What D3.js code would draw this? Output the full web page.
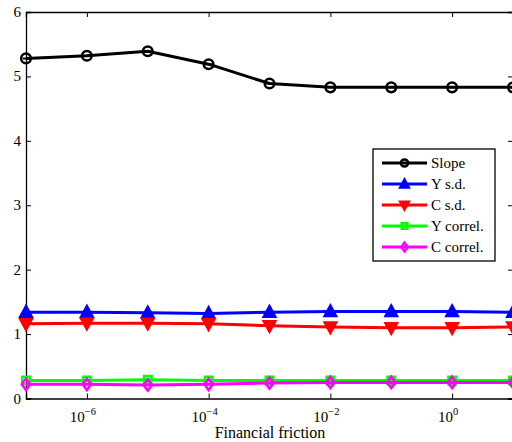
<!DOCTYPE html>
<html>
<head>
<meta charset="utf-8">
<script src="https://cdn.jsdelivr.net/npm/d3@7"></script>
<style>
  html, body { margin: 0; padding: 0; background: #fff; }
  #chart text { font-family: "Liberation Serif", "Times New Roman", serif; }
</style>
</head>
<body>
<svg id="chart" width="512" height="442"></svg>
<script>
// Financial friction levels (log scale)
const friction = [1e-7, 1e-6, 1e-5, 1e-4, 1e-3, 1e-2, 1e-1, 1e0, 1e1];

// Series values at each friction level
const slope   = [5.28, 5.32, 5.39, 5.19, 4.89, 4.83, 4.83, 4.83, 4.83];
const ySd     = [1.34, 1.34, 1.33, 1.32, 1.34, 1.35, 1.35, 1.35, 1.34];
const cSd     = [1.16, 1.17, 1.17, 1.16, 1.13, 1.11, 1.10, 1.10, 1.11];
const yCorrel = [0.28, 0.28, 0.29, 0.28, 0.28, 0.28, 0.28, 0.28, 0.28];
const cCorrel = [0.22, 0.22, 0.21, 0.22, 0.24, 0.25, 0.25, 0.25, 0.25];

const seriesNames = ["Slope", "Y s.d.", "C s.d.", "Y correl.", "C correl."];
const xTicks = [1e-6, 1e-4, 1e-2, 1e0];
const yTicks = [0, 1, 2, 3, 4, 5, 6];

const series = [
  { name: seriesNames[0], values: slope,   color: "#000000", marker: "circle" },
  { name: seriesNames[1], values: ySd,     color: "#0000ff", marker: "triUp" },
  { name: seriesNames[2], values: cSd,     color: "#ff0000", marker: "triDown" },
  { name: seriesNames[3], values: yCorrel, color: "#00ff00", marker: "square" },
  { name: seriesNames[4], values: cCorrel, color: "#ff00ff", marker: "diamond" }
];

const svg = d3.select("#chart");
const plotLeft = 26, plotRight = 513, plotTop = 12, plotBottom = 398.5;
const serif = '"Liberation Serif", "Times New Roman", serif';

const x = d3.scaleLog().domain([1e-7, 1e1]).range([plotLeft, plotRight]);
const y = d3.scaleLinear().domain([0, 6]).range([plotBottom, plotTop]);

// Plot frame clip
svg.append("defs").append("clipPath").attr("id", "plotClip")
  .append("rect").attr("x", plotLeft - 8).attr("y", plotTop - 8)
  .attr("width", plotRight - plotLeft + 16).attr("height", plotBottom - plotTop + 16);

// Axes (ticks pointing inward, box style)
const tickLen = 5;
const axes = svg.append("g");

const xAxisB = d3.axisBottom(x).tickValues(xTicks).tickSize(-tickLen).tickFormat("");
const xAxisT = d3.axisTop(x).tickValues(xTicks).tickSize(-tickLen).tickFormat("");
const yAxisL = d3.axisLeft(y).tickValues(yTicks).tickSize(-tickLen).tickFormat("");
const yAxisR = d3.axisRight(y).tickValues(yTicks).tickSize(-tickLen).tickFormat("");

function styleAxis(g) {
  g.selectAll("path.domain").attr("stroke", "#000").attr("stroke-width", 1.3);
  g.selectAll(".tick line").attr("stroke", "#000").attr("stroke-width", 1);
}
axes.append("g").attr("transform", `translate(0,${plotBottom})`).call(xAxisB).call(styleAxis);
axes.append("g").attr("transform", `translate(0,${plotTop})`).call(xAxisT).call(styleAxis);
axes.append("g").attr("transform", `translate(${plotLeft},0)`).call(yAxisL).call(styleAxis);
axes.append("g").attr("transform", `translate(${plotRight},0)`).call(yAxisR).call(styleAxis);

// Y tick labels
svg.append("g").selectAll("text").data(yTicks).join("text")
  .attr("x", plotLeft - 5).attr("y", d => y(d) + 5)
  .attr("text-anchor", "end").attr("font-size", 15).style("font-family", serif).attr("fill", "#000")
  .text(d => d);

// X tick labels as 10 with superscript exponent
const xl = svg.append("g").selectAll("text").data(xTicks).join("text")
  .attr("x", d => x(d) - 4).attr("y", plotBottom + 23)
  .attr("text-anchor", "middle").attr("font-size", 15).style("font-family", serif).attr("fill", "#000");
xl.append("tspan").text("10");
xl.append("tspan").attr("font-size", 10.5).attr("dy", -7)
  .text(d => { const e = Math.round(Math.log10(d)); return e < 0 ? "\u2212" + (-e) : String(e); });

// X axis title
svg.append("text").attr("x", 270).attr("y", 438)
  .attr("text-anchor", "middle").attr("font-size", 16).style("font-family", serif).attr("fill", "#000")
  .text("Financial friction");

// Marker shapes (unit size s)
function markerPath(type, s) {
  const p = d3.path();
  if (type === "triUp") {
    p.moveTo(0, -s); p.lineTo(s * 0.95, s * 0.75); p.lineTo(-s * 0.95, s * 0.75); p.closePath();
  } else if (type === "triDown") {
    p.moveTo(0, s); p.lineTo(s * 0.95, -s * 0.75); p.lineTo(-s * 0.95, -s * 0.75); p.closePath();
  } else if (type === "square") {
    p.rect(-s * 0.62, -s * 0.62, s * 1.24, s * 1.24);
  } else if (type === "diamond") {
    p.moveTo(0, -s * 0.95); p.lineTo(s * 0.7, 0); p.lineTo(0, s * 0.95); p.lineTo(-s * 0.7, 0); p.closePath();
  }
  return p.toString();
}

function drawMarker(g, type, color, s) {
  if (type === "circle") {
    g.append("circle").attr("r", s * 0.8).attr("fill", "none")
      .attr("stroke", color).attr("stroke-width", 2.5);
    g.append("line").attr("x1", -s * 0.5).attr("x2", s * 0.5).attr("y1", 0).attr("y2", 0)
      .attr("stroke", color).attr("stroke-width", 2);
  } else {
    const filled = type === "triUp" || type === "triDown";
    g.append("path").attr("d", markerPath(type, s))
      .attr("fill", filled ? color : "none")
      .attr("stroke", color).attr("stroke-width", 2.5)
      .attr("stroke-linejoin", "miter");
  }
}

// Data lines and markers
const plot = svg.append("g").attr("clip-path", "url(#plotClip)");
const line = d3.line().x((d, i) => x(friction[i])).y(d => y(d));

series.forEach(s => {
  plot.append("path").datum(s.values).attr("d", line)
    .attr("fill", "none").attr("stroke", s.color).attr("stroke-width", 3)
    .attr("stroke-linejoin", "round");
  s.values.forEach((v, i) => {
    const g = plot.append("g").attr("transform", `translate(${x(friction[i])},${y(v)})`);
    drawMarker(g, s.marker, s.color, 6);
  });
});

// Legend
const lg = svg.append("g");
lg.append("rect").attr("x", 373).attr("y", 149).attr("width", 122).attr("height", 112)
  .attr("fill", "#fff").attr("stroke", "#000").attr("stroke-width", 1.3);
series.forEach((s, i) => {
  const cy = 163 + i * 21;
  lg.append("line").attr("x1", 382).attr("x2", 427).attr("y1", cy).attr("y2", cy)
    .attr("stroke", s.color).attr("stroke-width", 3);
  const g = lg.append("g").attr("transform", `translate(404.5,${cy})`);
  drawMarker(g, s.marker, s.color, 4.5);
  lg.append("text").attr("x", 431).attr("y", cy + 5).attr("font-size", 15)
    .style("font-family", serif).attr("fill", "#000").text(s.name);
});
</script>
</body>
</html>
